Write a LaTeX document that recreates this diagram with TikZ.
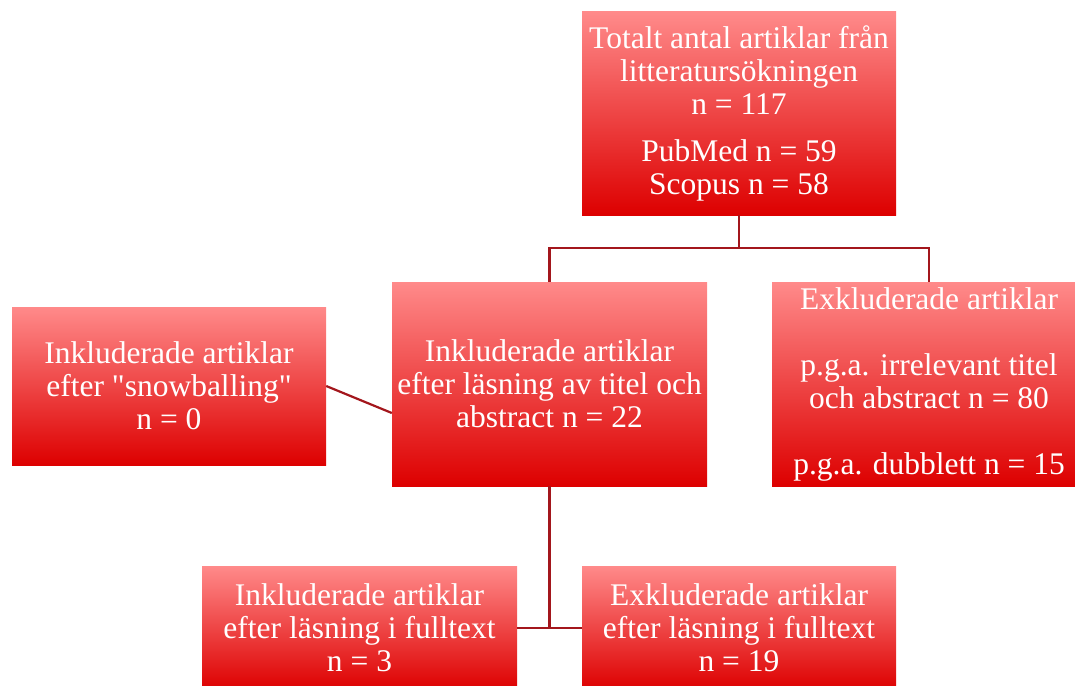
\documentclass[tikz,border=0pt]{standalone}
\usepackage{fontspec}
\setmainfont{Liberation Serif}[Ligatures=TeXOff]
\definecolor{boxtop}{RGB}{255,138,138}
\definecolor{boxbottom}{RGB}{221,0,0}
\definecolor{linkred}{RGB}{163,22,28}

\begin{document}
\begin{tikzpicture}[x=1pt,y=-1pt,
	box/.style={top color=boxtop,bottom color=boxbottom,text=white,align=center,inner sep=0pt,minimum width=314pt,font=\fontsize{31.5}{33}\selectfont},
	link/.style={draw=linkred,line width=2.2pt}]
	\useasboundingbox (0,0) rectangle (1075,685);
	\clip (0,0) rectangle (1075,685);
	
	\node[box,minimum height=203pt] (total) at (739,113.5) {Totalt antal artiklar från\\litteratursökningen\\n = 117\\[14pt]PubMed n = 59\\Scopus n = 58};
	\node[box,minimum height=204pt,minimum width=315pt] (incl) at (549.5,384) {Inkluderade artiklar\\efter läsning av titel och\\abstract n = 22};
	\node[box,minimum height=204pt] (excl) at (929,384) {Exkluderade artiklar\\[33pt]p.g.a. irrelevant titel\\och abstract n = 80\\[33pt]p.g.a. dubblett n = 15};
	\node[box,minimum height=158pt] (snow) at (169,386) {Inkluderade artiklar\\efter "snowballing"\\n = 0};
	\node[box,minimum height=124pt,minimum width=315pt] (fullin) at (359.5,628) {Inkluderade artiklar\\efter läsning i fulltext\\n = 3};
	\node[box,minimum height=124pt] (fullex) at (739,628) {Exkluderade artiklar\\efter läsning i fulltext\\n = 19};
	
	\draw[link] (total.south) -- ++(0,33) coordinate (split);
	\draw[link] (incl.north) |- (split) -| (excl.north);
	\coordinate (snowin) at ([yshift=-29pt]incl.west);
	\draw[link] (snow.east) -- (snowin);
	\draw[link] (incl.south) -- (incl.south |- fullin.east);
	\draw[link] (fullin.east) -- (fullex.west);
\end{tikzpicture}
\end{document}
